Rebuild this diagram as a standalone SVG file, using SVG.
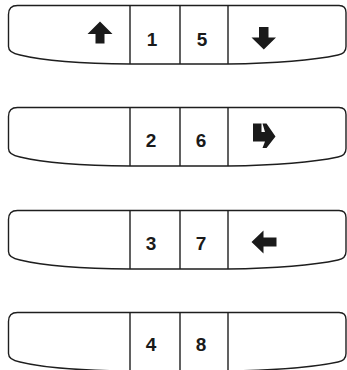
<svg xmlns="http://www.w3.org/2000/svg" width="347" height="370" viewBox="0 0 347 370">
<defs>
<style>
.outline{fill:#fff;stroke:#1e1e1e;stroke-width:1.4;stroke-linejoin:round}
.div{stroke:#1e1e1e;stroke-width:1.4}
.num{font-family:"Liberation Sans",Arial,sans-serif;font-weight:bold;font-size:19px;fill:#1a1a1a;text-anchor:middle}
.ico{fill:#1a1a1a}
</style>
<g id="strip">
<path class="outline" d="M17.5,0 H339 Q346,0 346,7 V41 Q346,48 338,49.5 Q300,57.5 228,58.5 H130 Q55,58 20,49.5 Q8.5,47.5 8.5,41 V9 Q8.5,0 17.5,0 Z"/>
<line class="div" x1="130" y1="0" x2="130" y2="58.5"/>
<line class="div" x1="180" y1="0" x2="180" y2="58.5"/>
<line class="div" x1="228" y1="0" x2="228" y2="58.5"/>
</g>
</defs>
<g id="row1">
<use href="#strip" transform="translate(0,5.5)"/>
<path class="ico" d="M100,21.5 L112.5,34 H104.5 V43.5 H95.5 V34 H87.5 Z"/>
<text class="num" x="152" y="46">1</text>
<text class="num" x="202" y="46">5</text>
<path class="ico" d="M259,27 H268.5 V37.5 H276 L263.8,49.5 L251.5,37.5 H259 Z"/>
</g>
<g id="row2">
<use href="#strip" transform="translate(0,107.5)"/>
<text class="num" x="151" y="147">2</text>
<text class="num" x="201" y="147">6</text>
<path class="ico" d="M253,123.5 H261.5 V132 H265 L262.5,123.5 H266.5 L275.5,136.5 L266.5,148 H262.5 L265,141.5 H253 Z"/>
</g>
<g id="row3">
<use href="#strip" transform="translate(0,210.5)"/>
<text class="num" x="151" y="250">3</text>
<text class="num" x="201" y="250">7</text>
<path class="ico" d="M251.5,242 L263.5,230.5 V237.5 H276.5 V246.5 H263.5 V253.5 Z"/>
</g>
<g id="row4">
<use href="#strip" transform="translate(0,312.5)"/>
<text class="num" x="151" y="351">4</text>
<text class="num" x="201" y="351">8</text>
</g>
</svg>
